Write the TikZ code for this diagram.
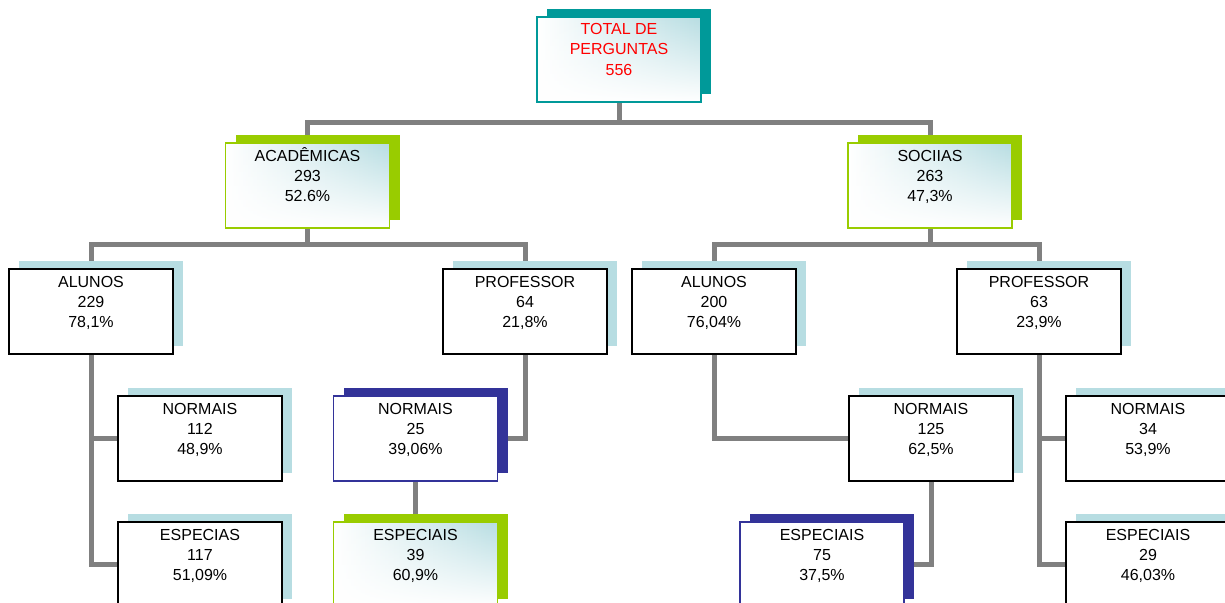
\documentclass[tikz,border=0pt]{standalone}
\usepackage{fontspec}
\setmainfont{Liberation Sans}
\usetikzlibrary{shadows,backgrounds,fadings}
\definecolor{tealc}{HTML}{009999}
\definecolor{greenc}{HTML}{99CC00}
\definecolor{bluec}{HTML}{333399}
\definecolor{lbc}{HTML}{B7DDE2}
\definecolor{grayc}{HTML}{808080}
\tikzfading[name=fadebottom, top color=transparent!100, middle color=transparent!55, bottom color=transparent!0]
\newcommand{\boxtext}[3]{\parbox[t][85pt][t]{164pt}{\fontsize{16}{20}\selectfont\centering\rule{0pt}{18pt}#1\\#2\\#3}}
\begin{document}
\begin{tikzpicture}[x=1pt,y=1pt,
  box/.style={inner sep=0pt, outer sep=0pt, line width=1.6pt},
  grad/.style={left color=white, right color=lbc,
    postaction={fill=white, path fading=fadebottom, fit fading=true},
    postaction={draw=#1, line width=1.6pt}},
  tealbox/.style={box, draw=tealc, text=red, grad=tealc,
    general shadow={shadow xshift=10pt, shadow yshift=8pt, fill=tealc, draw=none}},
  greenbox/.style={box, draw=greenc, grad=greenc,
    general shadow={shadow xshift=10pt, shadow yshift=8pt, fill=greenc, draw=none}},
  bluebox/.style={box, draw=bluec, fill=white,
    general shadow={shadow xshift=10pt, shadow yshift=8pt, fill=bluec, draw=none}},
  blkbox/.style={box, draw=black, fill=white,
    general shadow={shadow xshift=10pt, shadow yshift=8pt, fill=lbc, draw=none}},
  conn/.style={draw=grayc, line width=5pt}]
\clip (0,0) rectangle (1225,-602);
\useasboundingbox (0,0) rectangle (1225,-602);
% boxes
\node[tealbox] (total) at (619,-59.5) {\boxtext{TOTAL DE}{PERGUNTAS}{556}};
\node[greenbox] (acad) at (307.5,-185.5) {\boxtext{ACADÊMICAS}{293}{52.6\%}};
\node[greenbox] (soc) at (930,-185.5) {\boxtext{SOCIIAS}{263}{47,3\%}};
\node[blkbox] (alL) at (91,-311.5) {\boxtext{ALUNOS}{229}{78,1\%}};
\node[blkbox] (prL) at (525,-311.5) {\boxtext{PROFESSOR}{64}{21,8\%}};
\node[blkbox] (alR) at (714,-311.5) {\boxtext{ALUNOS}{200}{76,04\%}};
\node[blkbox] (prR) at (1039,-311.5) {\boxtext{PROFESSOR}{63}{23,9\%}};
\node[blkbox] (n112) at (200,-438.5) {\boxtext{NORMAIS}{112}{48,9\%}};
\node[blkbox] (e117) at (200,-564.5) {\boxtext{ESPECIAS}{117}{51,09\%}};
\node[bluebox] (n25) at (415.5,-438.5) {\boxtext{NORMAIS}{25}{39,06\%}};
\node[greenbox] (e39) at (415.5,-564.5) {\boxtext{ESPECIAIS}{39}{60,9\%}};
\node[blkbox] (n125) at (931,-438.5) {\boxtext{NORMAIS}{125}{62,5\%}};
\node[bluebox] (e75) at (822,-564.5) {\boxtext{ESPECIAIS}{75}{37,5\%}};
\node[blkbox] (n34) at (1148,-438.5) {\boxtext{NORMAIS}{34}{53,9\%}};
\node[blkbox] (e29) at (1148,-564.5) {\boxtext{ESPECIAIS}{29}{46,03\%}};
% connectors behind the boxes
\begin{scope}[on background layer]
\fill[white] (0,0) rectangle (1225,-602);
\draw[conn] (total.south) -- ++(0,-20) -| (acad.north);
\draw[conn] (total.south) -- ++(0,-20) -| (soc.north);
\draw[conn] (acad.south) -- ++(0,-16) -| (alL.north);
\draw[conn] (acad.south) -- ++(0,-16) -| (prL.north);
\draw[conn] (soc.south) -- ++(0,-16) -| (alR.north);
\draw[conn] (soc.south) -- ++(0,-16) -| (prR.north);
\draw[conn] (alL.south) |- (n112.west);
\draw[conn] (alL.south) |- (e117.west);
\draw[conn] (prL.south) |- (n25.east);
\draw[conn] (n25.south) -- (e39.north);
\draw[conn] (alR.south) |- (n125.west);
\draw[conn] (n125.south) |- (e75.east);
\draw[conn] (prR.south) |- (n34.west);
\draw[conn] (prR.south) |- (e29.west);
\end{scope}
\end{tikzpicture}
\end{document}
